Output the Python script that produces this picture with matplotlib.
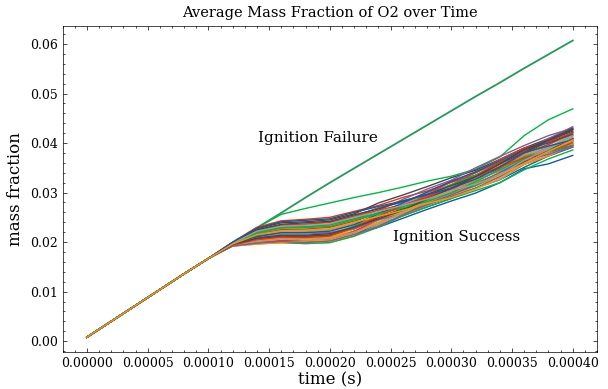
"""
plot.py
Average O2 mass fraction over time for an ensemble of ignition runs.
"""

import matplotlib
matplotlib.use("Agg")
import matplotlib.pyplot as plt

# science-style look (serif font, inward ticks on all four sides)
plt.rcParams.update({
    "font.family": "serif",
    "font.serif": ["DejaVu Serif"],
    "mathtext.fontset": "dejavuserif",
    "axes.linewidth": 0.5,
    "lines.linewidth": 1.0,
    "xtick.direction": "in",
    "ytick.direction": "in",
    "xtick.top": True,
    "ytick.right": True,
    "xtick.minor.visible": True,
    "ytick.minor.visible": True,
    "xtick.major.size": 3,
    "ytick.major.size": 3,
    "xtick.minor.size": 1.5,
    "ytick.minor.size": 1.5,
    "xtick.major.width": 0.5,
    "ytick.major.width": 0.5,
    "xtick.minor.width": 0.5,
    "ytick.minor.width": 0.5,
})

COLORS = {
    "blue": "#0C5DA5", "green": "#00B945", "orange": "#FF9500",
    "red": "#FF2C00", "purple": "#845B97", "dark": "#474747",
    "gray": "#9e9e9e",
}

# ── data ─────────────────────────────────────────────────────────────────────
time_s = [0.0, 0.00002, 0.00004, 0.00006, 0.00008, 0.00010, 0.00012,
          0.00014, 0.00016, 0.00018, 0.00020, 0.00022, 0.00024, 0.00026,
          0.00028, 0.00030, 0.00032, 0.00034, 0.00036, 0.00038, 0.00040]

# all runs share the same trace up to t = 0.1 ms
shared_start = [0.0008, 0.0040, 0.0072, 0.0104, 0.0136, 0.0167]

failure_tail = [0.0198, 0.0229, 0.0259, 0.0290, 0.0320, 0.0349, 0.0378,
                0.0407, 0.0436, 0.0465, 0.0494, 0.0522, 0.0551, 0.0579,
                0.0607]

late_ignition_tail = [0.0198, 0.0229, 0.0256, 0.0268, 0.0279, 0.0290,
                      0.0300, 0.0311, 0.0323, 0.0333, 0.0347, 0.0372,
                      0.0415, 0.0447, 0.0469]

success_tails = [
    [.0200, .0230, .0243, .0246, .0250, .0262, .0274, .0290, .0303, .0321, .0335, .0355, .0373, .0391, .0409],
    [.0199, .0227, .0239, .0241, .0245, .0257, .0279, .0295, .0312, .0330, .0345, .0367, .0390, .0409, .0427],
    [.0198, .0223, .0234, .0236, .0240, .0252, .0269, .0281, .0298, .0316, .0340, .0361, .0384, .0409, .0433],
    [.0198, .0220, .0230, .0231, .0235, .0247, .0264, .0286, .0307, .0325, .0350, .0373, .0395, .0415, .0430],
    [.0197, .0216, .0225, .0226, .0230, .0242, .0259, .0276, .0289, .0307, .0325, .0349, .0379, .0397, .0421],
    [.0196, .0213, .0221, .0222, .0225, .0237, .0255, .0272, .0294, .0311, .0330, .0344, .0362, .0380, .0398],
    [.0196, .0210, .0217, .0217, .0219, .0232, .0250, .0267, .0284, .0297, .0314, .0332, .0357, .0374, .0395],
    [.0195, .0210, .0212, .0212, .0214, .0227, .0245, .0262, .0280, .0302, .0325, .0349, .0379, .0403, .0427],
    [.0194, .0206, .0212, .0207, .0209, .0222, .0240, .0257, .0275, .0297, .0314, .0338, .0368, .0391, .0415],
    [.0194, .0203, .0208, .0207, .0209, .0222, .0240, .0262, .0284, .0307, .0325, .0344, .0373, .0391, .0409],
    [.0194, .0203, .0208, .0202, .0204, .0217, .0235, .0253, .0271, .0288, .0309, .0326, .0351, .0374, .0392],
    [.0193, .0199, .0203, .0202, .0204, .0217, .0230, .0248, .0266, .0283, .0299, .0320, .0348, .0358, .0375],
    [.0192, .0196, .0199, .0197, .0199, .0212, .0235, .0253, .0275, .0292, .0314, .0332, .0362, .0386, .0404],
    [.0194, .0199, .0203, .0202, .0204, .0222, .0245, .0267, .0289, .0311, .0335, .0361, .0384, .0403, .0415],
    [.0195, .0206, .0212, .0212, .0214, .0232, .0255, .0272, .0294, .0316, .0335, .0355, .0373, .0386, .0404],
    [.0197, .0213, .0221, .0222, .0225, .0237, .0250, .0267, .0280, .0292, .0309, .0326, .0357, .0380, .0404],
    [.0198, .0216, .0225, .0226, .0230, .0242, .0259, .0276, .0298, .0321, .0340, .0367, .0390, .0403, .0421],
    [.0198, .0220, .0230, .0231, .0235, .0252, .0269, .0281, .0294, .0307, .0319, .0338, .0368, .0391, .0409],
    [.0194, .0206, .0212, .0212, .0214, .0227, .0250, .0267, .0284, .0302, .0319, .0338, .0362, .0386, .0409],
    [.0194, .0203, .0208, .0207, .0209, .0227, .0245, .0262, .0284, .0302, .0330, .0355, .0379, .0397, .0415],
    [.0193, .0199, .0199, .0197, .0199, .0212, .0230, .0253, .0271, .0288, .0304, .0320, .0346, .0368, .0386],
    [.0196, .0213, .0217, .0217, .0219, .0227, .0245, .0257, .0275, .0292, .0309, .0332, .0357, .0374, .0392],
    [.0199, .0223, .0234, .0236, .0240, .0252, .0264, .0276, .0289, .0307, .0330, .0349, .0379, .0397, .0421],
    [.0195, .0210, .0217, .0217, .0225, .0237, .0255, .0276, .0298, .0311, .0330, .0344, .0368, .0391, .0415],
    [.0197, .0220, .0230, .0231, .0235, .0247, .0259, .0272, .0284, .0297, .0314, .0338, .0368, .0386, .0398],
    [.0192, .0196, .0199, .0202, .0204, .0217, .0240, .0257, .0280, .0297, .0319, .0338, .0357, .0374, .0398],
    [.0196, .0211, .0219, .0219, .0222, .0235, .0257, .0279, .0301, .0323, .0342, .0364, .0387, .0400, .0418],
    [.0193, .0201, .0206, .0204, .0207, .0220, .0237, .0260, .0282, .0304, .0322, .0346, .0376, .0394, .0406],
    [.0197, .0218, .0228, .0229, .0232, .0245, .0257, .0269, .0282, .0299, .0322, .0346, .0370, .0383, .0395],
    [.0199, .0225, .0236, .0239, .0242, .0255, .0267, .0283, .0296, .0314, .0332, .0358, .0387, .0406, .0430],
    [.0194, .0205, .0210, .0209, .0212, .0230, .0252, .0274, .0291, .0309, .0332, .0352, .0370, .0383, .0401],
    [.0192, .0198, .0201, .0199, .0202, .0215, .0232, .0255, .0278, .0295, .0317, .0341, .0365, .0377, .0395],
    [.0195, .0208, .0214, .0214, .0217, .0230, .0247, .0264, .0287, .0309, .0332, .0358, .0381, .0406, .0424],
    [.0198, .0222, .0232, .0234, .0237, .0250, .0262, .0274, .0287, .0304, .0317, .0335, .0365, .0388, .0412],
    [.0200, .0228, .0241, .0244, .0247, .0260, .0272, .0283, .0296, .0309, .0327, .0352, .0381, .0394, .0406],
    [.0196, .0215, .0223, .0224, .0227, .0240, .0252, .0264, .0278, .0290, .0307, .0329, .0359, .0383, .0406],
]

success_colors = ["red", "dark", "purple", "purple", "orange", "blue", "gray",
                  "dark", "green", "orange", "blue", "blue", "orange", "red",
                  "green", "gray", "red", "purple", "dark", "orange", "green",
                  "purple", "red", "gray", "green", "orange", "blue", "gray",
                  "green", "dark", "red", "purple", "dark", "gray", "blue",
                  "orange"]


fig, ax = plt.subplots(figsize=(6.08, 3.89), dpi=100)
fig.subplots_adjust(left=0.103, right=0.982, bottom=0.095, top=0.934)

ax.plot(time_s, shared_start + failure_tail, color="#23995a", linewidth=1.3)
ax.plot(time_s, shared_start + late_ignition_tail, color=COLORS["green"])
for tail, cname in zip(success_tails, success_colors):
    ax.plot(time_s, shared_start + tail, color=COLORS[cname])

ax.text(0.00019, 0.0411, "Ignition Failure", fontsize=11,
        ha="center", va="center")
ax.text(0.000304, 0.0210, "Ignition Success", fontsize=11,
        ha="center", va="center")

ax.set_title("Average Mass Fraction of O2 over Time", fontsize=10.5)
ax.set_xlabel("time (s)", fontsize=12, labelpad=1)
ax.set_ylabel("mass fraction", fontsize=12)
ax.tick_params(labelsize=9)

fig.savefig("out.png", dpi=100)
